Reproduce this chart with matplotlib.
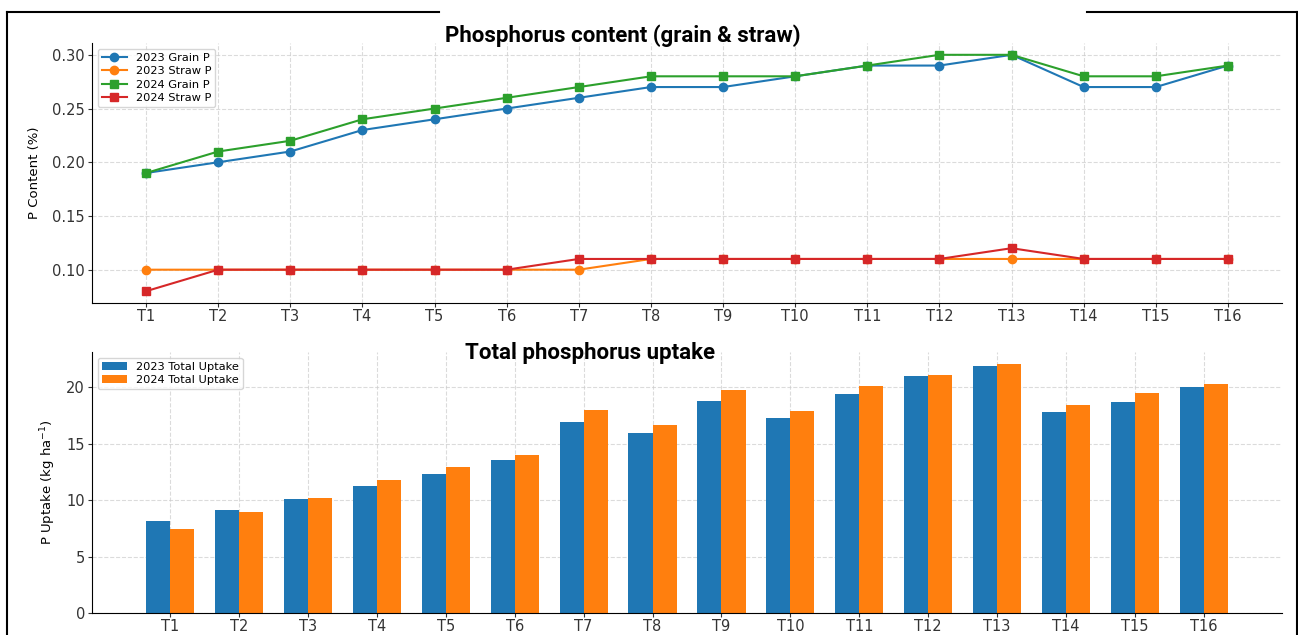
import matplotlib
matplotlib.use("Agg")
import matplotlib.pyplot as plt
import numpy as np
from matplotlib.lines import Line2D

plt.rcParams['font.family'] = ['DejaVu Sans']

treatments = [f"T{i}" for i in range(1, 17)]

grain_2023 = [0.19, 0.20, 0.21, 0.23, 0.24, 0.25, 0.26, 0.27, 0.27, 0.28, 0.29, 0.29, 0.30, 0.27, 0.27, 0.29]
straw_2023 = [0.10, 0.10, 0.10, 0.10, 0.10, 0.10, 0.10, 0.11, 0.11, 0.11, 0.11, 0.11, 0.11, 0.11, 0.11, 0.11]
grain_2024 = [0.19, 0.21, 0.22, 0.24, 0.25, 0.26, 0.27, 0.28, 0.28, 0.28, 0.29, 0.30, 0.30, 0.28, 0.28, 0.29]
straw_2024 = [0.08, 0.10, 0.10, 0.10, 0.10, 0.10, 0.11, 0.11, 0.11, 0.11, 0.11, 0.11, 0.12, 0.11, 0.11, 0.11]

uptake_2023 = [8.1, 9.1, 10.1, 11.2, 12.3, 13.5, 16.9, 15.9, 18.8, 17.3, 19.4, 21.0, 21.9, 17.8, 18.7, 20.0]
uptake_2024 = [7.4, 8.9, 10.2, 11.8, 12.9, 14.0, 18.0, 16.6, 19.7, 17.9, 20.1, 21.1, 22.0, 18.4, 19.5, 20.3]

W, H = 1298, 635
fig = plt.figure(figsize=(W / 100, H / 100), dpi=100)

def fpos(l, r, t, b):
    return [l / W, 1 - b / H, (r - l) / W, (b - t) / H]

ax1 = fig.add_axes(fpos(92, 1282, 43, 303))
ax2 = fig.add_axes(fpos(92, 1282, 352, 613))

x = np.arange(len(treatments))

ax1.plot(x, grain_2023, marker='o', color='C0', label='2023 Grain P', lw=1.5, ms=6)
ax1.plot(x, straw_2023, marker='o', color='C1', label='2023 Straw P', lw=1.5, ms=6)
ax1.plot(x, grain_2024, marker='s', color='C2', label='2024 Grain P', lw=1.5, ms=6)
ax1.plot(x, straw_2024, marker='s', color='C3', label='2024 Straw P', lw=1.5, ms=6)
ax1.set_xticks(x)
ax1.set_xticklabels(treatments)
ax1.set_yticks([0.10, 0.15, 0.20, 0.25, 0.30])
ax1.set_ylabel('P Content (%)', fontsize=9.5, labelpad=8)
ax1.legend(loc='upper left', fontsize=8.2, frameon=True, labelspacing=0.3,
           borderpad=0.35, handlelength=2.2)

w = 0.35
ax2.bar(x - w / 2, uptake_2023, width=w, color='C0', label='2023 Total Uptake')
ax2.bar(x + w / 2, uptake_2024, width=w, color='C1', label='2024 Total Uptake')
ax2.set_xticks(x)
ax2.set_xticklabels(treatments)
ax2.set_yticks([0, 5, 10, 15, 20])
ax2.set_ylabel(r'P Uptake (kg ha$^{-1}$)', fontsize=9.5, labelpad=6)
ax2.legend(loc='upper left', fontsize=8.2, frameon=True, labelspacing=0.3,
           borderpad=0.35, handlelength=2.2)

for ax in (ax1, ax2):
    ax.grid(True, linestyle='--', linewidth=0.8, color='#cccccc', alpha=0.7)
    ax.set_axisbelow(True)
    ax.spines['top'].set_visible(False)
    ax.spines['right'].set_visible(False)
    ax.tick_params(labelsize=10.5, colors='#333333')
    ax.tick_params(axis='x', length=3, pad=1.5)
    ax.tick_params(axis='y', length=3, pad=2)

title_font = ['Liberation Sans Narrow', 'Roboto', 'DejaVu Sans']
fig.text(623 / W, 1 - 36 / H, 'Phosphorus content (grain & straw)', ha='center', va='center',
         fontsize=16, fontweight='bold', family=title_font)
fig.text(590 / W, 1 - 353 / H, 'Total phosphorus uptake', ha='center', va='center',
         fontsize=16, fontweight='bold', family=title_font)

# outer frame of the screenshot
def fline(xs, ys):
    fig.add_artist(Line2D([v / W for v in xs], [1 - v / H for v in ys], color='black', lw=1.5))

fline([7, 7], [12, 635])
fline([1297, 1297], [12, 635])
fline([7, 439], [12, 12])
fline([1087, 1297], [12, 12])

fig.savefig('out.png', dpi=100)
